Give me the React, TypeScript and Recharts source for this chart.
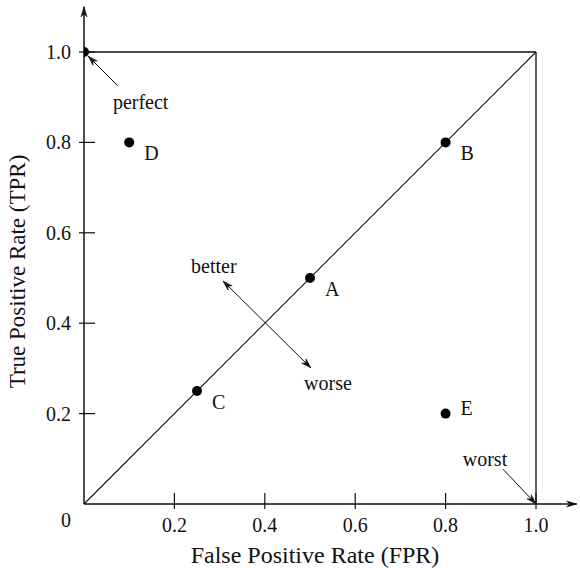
import { ScatterChart, Scatter, XAxis, YAxis, ReferenceLine, ReferenceDot } from 'recharts';

// ROC space points
const pointNames = ['', 'D', 'B', 'A', 'C', 'E'];
const fprValues = [0, 0.1, 0.8, 0.5, 0.25, 0.8];
const tprValues = [1, 0.8, 0.8, 0.5, 0.25, 0.2];

const xTicks = [0.2, 0.4, 0.6, 0.8, 1.0];
const yTicks = [0, 0.2, 0.4, 0.6, 0.8, 1.0];

// frame + diagonal: [x1, y1, x2, y2]
const frameSegments = [
  [0, 1, 1, 1],
  [1, 0, 1, 1],
  [0, 0, 1, 1],
];

// annotation words (left / baseline in data units)
const noteTexts = ['perfect', 'better', 'worse', 'worst'];
const noteX = [0.064, 0.237, 0.487, 0.838];
const noteY = [0.874, 0.511, 0.252, 0.084];

// annotation arrows: [x1, y1, x2, y2], head at end (both ends if double)
const arrowSegments = [
  [0.075, 0.925, 0.009, 0.991],
  [0.5022, 0.3009, 0.3075, 0.4934],
  [0.927, 0.077, 1.0, 0.0],
];
const arrowDouble = [false, true, false];

const font = '"Liberation Serif", "Times New Roman", serif';
const ink = '#111';

const points = fprValues.map((x, i) => ({ x, y: tprValues[i], name: pointNames[i] }));

function head(x1: number, y1: number, x2: number, y2: number, len = 10, half = 3) {
  const dx = x2 - x1;
  const dy = y2 - y1;
  const d = Math.hypot(dx, dy) || 1;
  const ux = dx / d, uy = dy / d;
  const nx = -uy, ny = ux;
  const pts = [
    [x2, y2],
    [x2 - len * ux + half * nx, y2 - len * uy + half * ny],
    [x2 - (len - 3) * ux, y2 - (len - 3) * uy],
    [x2 - len * ux - half * nx, y2 - len * uy - half * ny],
  ];
  return pts.map((p) => p.join(',')).join(' ');
}

const arrowShape = (double: boolean, width: number) => (p: any) => (
  <g>
    <line x1={p.x1} y1={p.y1} x2={p.x2} y2={p.y2} stroke={ink} strokeWidth={width} />
    <polygon points={head(p.x1, p.y1, p.x2, p.y2)} fill={ink} stroke={ink} strokeWidth={0.6} />
    {double && <polygon points={head(p.x2, p.y2, p.x1, p.y1)} fill={ink} stroke={ink} strokeWidth={0.6} />}
  </g>
);

const XTick = (props: any) => {
  const { x, y, payload } = props;
  return (
    <g>
      <line x1={x} x2={x} y1={y - 11} y2={y + 5} stroke={ink} strokeWidth={1.2} />
      <text x={x} y={y + 28} textAnchor="middle" fill={ink} style={{ fontFamily: font, fontSize: 20 }}>
        {payload.value.toFixed(1)}
      </text>
    </g>
  );
};

const YTick = (props: any) => {
  const { x, y, payload } = props;
  if (payload.value === 0) {
    return (
      <text x={x - 18} y={y + 23} textAnchor="middle" fill={ink} style={{ fontFamily: font, fontSize: 20 }}>
        0
      </text>
    );
  }
  return (
    <g>
      <line x1={x - 5} x2={x + 11} y1={y} y2={y} stroke={ink} strokeWidth={1.2} />
      <text x={x - 13} y={y + 7} textAnchor="end" fill={ink} style={{ fontFamily: font, fontSize: 20 }}>
        {payload.value.toFixed(1)}
      </text>
    </g>
  );
};

const PointShape = (props: any) => {
  const { cx, cy } = props;
  const name = props.payload?.name ?? props.name;
  const dy = name === 'E' ? 1 : 18;
  return (
    <g>
      <circle cx={cx} cy={cy} r={5} fill="#000" />
      {name && (
        <text x={cx + 15} y={cy + dy} fill={ink} style={{ fontFamily: font, fontSize: 20 }}>
          {name}
        </text>
      )}
    </g>
  );
};

export default function App() {
  return (
    <div style={{ position: 'absolute', left: 0, top: 0, width: 580, height: 568, background: '#fff' }}>
      <ScatterChart width={580} height={568} margin={{ top: 6.8, right: 3.32, bottom: 0, left: 0 }}>
        <XAxis
          type="number"
          dataKey="x"
          domain={[0, 1.09]}
          allowDataOverflow
          ticks={xTicks}
          height={64}
          axisLine={false}
          tickLine={false}
          tickSize={0}
          tickMargin={0}
          tick={<XTick />}
          label={(p: any) => (
            <text
              x={p.viewBox.x + 231}
              y={p.viewBox.y + p.viewBox.height - 5}
              textAnchor="middle"
              fill={ink}
              style={{ fontFamily: font, fontSize: 24 }}
            >
              False Positive Rate (FPR)
            </text>
          )}
        />
        <YAxis
          type="number"
          dataKey="y"
          domain={[0, 1.1]}
          allowDataOverflow
          ticks={yTicks}
          width={84}
          axisLine={false}
          tickLine={false}
          tickSize={0}
          tickMargin={0}
          tick={<YTick />}
          label={(p: any) => {
            const lx = p.viewBox.x + 25;
            const ly = p.viewBox.y + p.viewBox.height - 232.5;
            return (
              <text
                x={lx}
                y={ly}
                transform={`rotate(-90, ${lx}, ${ly})`}
                textAnchor="middle"
                fill={ink}
                style={{ fontFamily: font, fontSize: 23 }}
              >
                True Positive Rate (TPR)
              </text>
            );
          }}
        />
        {/* axes with arrows */}
        <ReferenceLine segment={[{ x: 0, y: 0 }, { x: 0, y: 1.1 }]} shape={arrowShape(false, 1.5)} />
        <ReferenceLine segment={[{ x: 0, y: 0 }, { x: 1.09, y: 0 }]} shape={arrowShape(false, 1.5)} />
        {frameSegments.map((s, i) => (
          <ReferenceLine
            key={`f${i}`}
            segment={[{ x: s[0], y: s[1] }, { x: s[2], y: s[3] }]}
            stroke={ink}
            strokeWidth={i === 2 ? 1.1 : 1.3}
          />
        ))}
        {arrowSegments.map((s, i) => (
          <ReferenceLine
            key={`a${i}`}
            segment={[{ x: s[0], y: s[1] }, { x: s[2], y: s[3] }]}
            shape={arrowShape(arrowDouble[i], 1)}
          />
        ))}
        {noteTexts.map((t, i) => (
          <ReferenceDot
            key={`n${i}`}
            x={noteX[i]}
            y={noteY[i]}
            r={0}
            shape={(p: any) => (
              <text x={p.cx} y={p.cy} fill={ink} style={{ fontFamily: font, fontSize: 20 }}>
                {t}
              </text>
            )}
          />
        ))}
        <Scatter data={points} isAnimationActive={false} shape={<PointShape />} />
      </ScatterChart>
    </div>
  );
}
